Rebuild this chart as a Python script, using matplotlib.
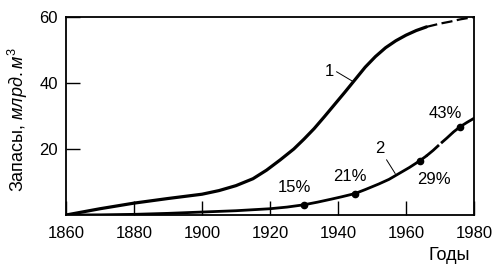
import matplotlib
matplotlib.use("Agg")
import matplotlib.pyplot as plt

# curve 1: total reserves (solid part, then dashed forecast)
years1 = [1860, 1870, 1880, 1890, 1900, 1905, 1910, 1915, 1919, 1923, 1927, 1930, 1933,
          1936, 1939, 1942, 1945, 1948, 1951, 1954, 1957, 1960, 1963, 1966]
vals1 = [0, 1.9, 3.6, 5.0, 6.3, 7.4, 8.9, 11.0, 13.6, 16.7, 20.0, 23.0, 26.2,
         29.8, 33.5, 37.2, 41.0, 44.8, 48.0, 50.7, 52.8, 54.5, 55.9, 57.0]
years1_d = [1966, 1970, 1973, 1976, 1980]
vals1_d = [57.0, 58.0, 58.6, 59.3, 60.0]

# curve 2
years2 = [1860, 1870, 1880, 1890, 1900, 1910, 1920, 1925, 1930, 1934, 1938, 1941, 1945,
          1948, 1952, 1955, 1958, 1961, 1964, 1966]
vals2 = [0, 0.05, 0.2, 0.5, 0.9, 1.3, 1.9, 2.4, 3.1, 3.9, 4.8, 5.5, 6.5,
         7.7, 9.4, 10.8, 12.6, 14.4, 16.4, 17.9]
years2_d = [1966, 1968, 1970, 1972, 1974]
vals2_d = [17.9, 19.6, 21.5, 23.3, 25.2]
years2_e = [1974, 1976, 1978, 1980]
vals2_e = [25.2, 26.8, 28.1, 29.3]

# points with percentages
mark_years = [1930, 1945, 1964, 1976]
mark_vals = [3.1, 6.5, 16.4, 26.8]
mark_labels = ["15%", "21%", "29%", "43%"]
label_pos = [(1927.2, 8.3), (1943.5, 11.6), (1968.2, 10.8), (1971.5, 30.8)]

plt.rcParams['font.family'] = ['Liberation Sans', 'DejaVu Sans']
plt.rcParams['mathtext.fontset'] = 'custom'
plt.rcParams['mathtext.rm'] = 'Liberation Sans'
plt.rcParams['mathtext.it'] = 'Liberation Sans:italic'

fig = plt.figure(figsize=(5, 2.78), dpi=100)
ax = fig.add_axes([0.132, 0.2266, 0.816, 0.7122])

ax.plot(years1, vals1, color='black', lw=2.3, solid_capstyle='round', solid_joinstyle='round')
ax.plot(years1_d, vals1_d, color='black', lw=1.6, ls=(0, (5, 2)))
ax.plot(years2, vals2, color='black', lw=2.0, solid_capstyle='round', solid_joinstyle='round')
ax.plot(years2_d, vals2_d, color='black', lw=2.0, ls=(0, (6, 1)))
ax.plot(years2_e, vals2_e, color='black', lw=2.0, solid_capstyle='round', solid_joinstyle='round')
ax.plot(mark_years, mark_vals, 'o', color='black', ms=4.5)

for lab, (x, y) in zip(mark_labels, label_pos):
    ax.text(x, y, lab, ha='center', va='center', fontsize=12)

ax.text(1937.4, 43.4, "1", ha='center', va='center', fontsize=12)
ax.plot([1939.6, 1944.5], [43.4, 40.4], color='black', lw=0.7)
ax.text(1952.2, 20.2, "2", ha='center', va='center', fontsize=12)
ax.plot([1954.3, 1956.8], [16.7, 12.6], color='black', lw=0.7)

ax.set_xlim(1860, 1980)
ax.set_ylim(0, 60)
ax.set_xticks([1860, 1880, 1900, 1920, 1940, 1960, 1980])
ax.set_yticks([20, 40, 60])
ax.tick_params(direction='in', length=10, width=1.0, labelsize=12)
ax.tick_params(axis='x', pad=8)
ax.tick_params(axis='y', pad=6)
for s in ax.spines.values():
    s.set_linewidth(1.3)

fig.text(0.036, 0.57, r'Запасы, $\mathit{млрд.м}^3$', rotation=90,
         ha='center', va='center', fontsize=13)
fig.text(0.898, 0.08, "Годы", ha='center', va='center', fontsize=13)

fig.savefig("out.png", dpi=100)
